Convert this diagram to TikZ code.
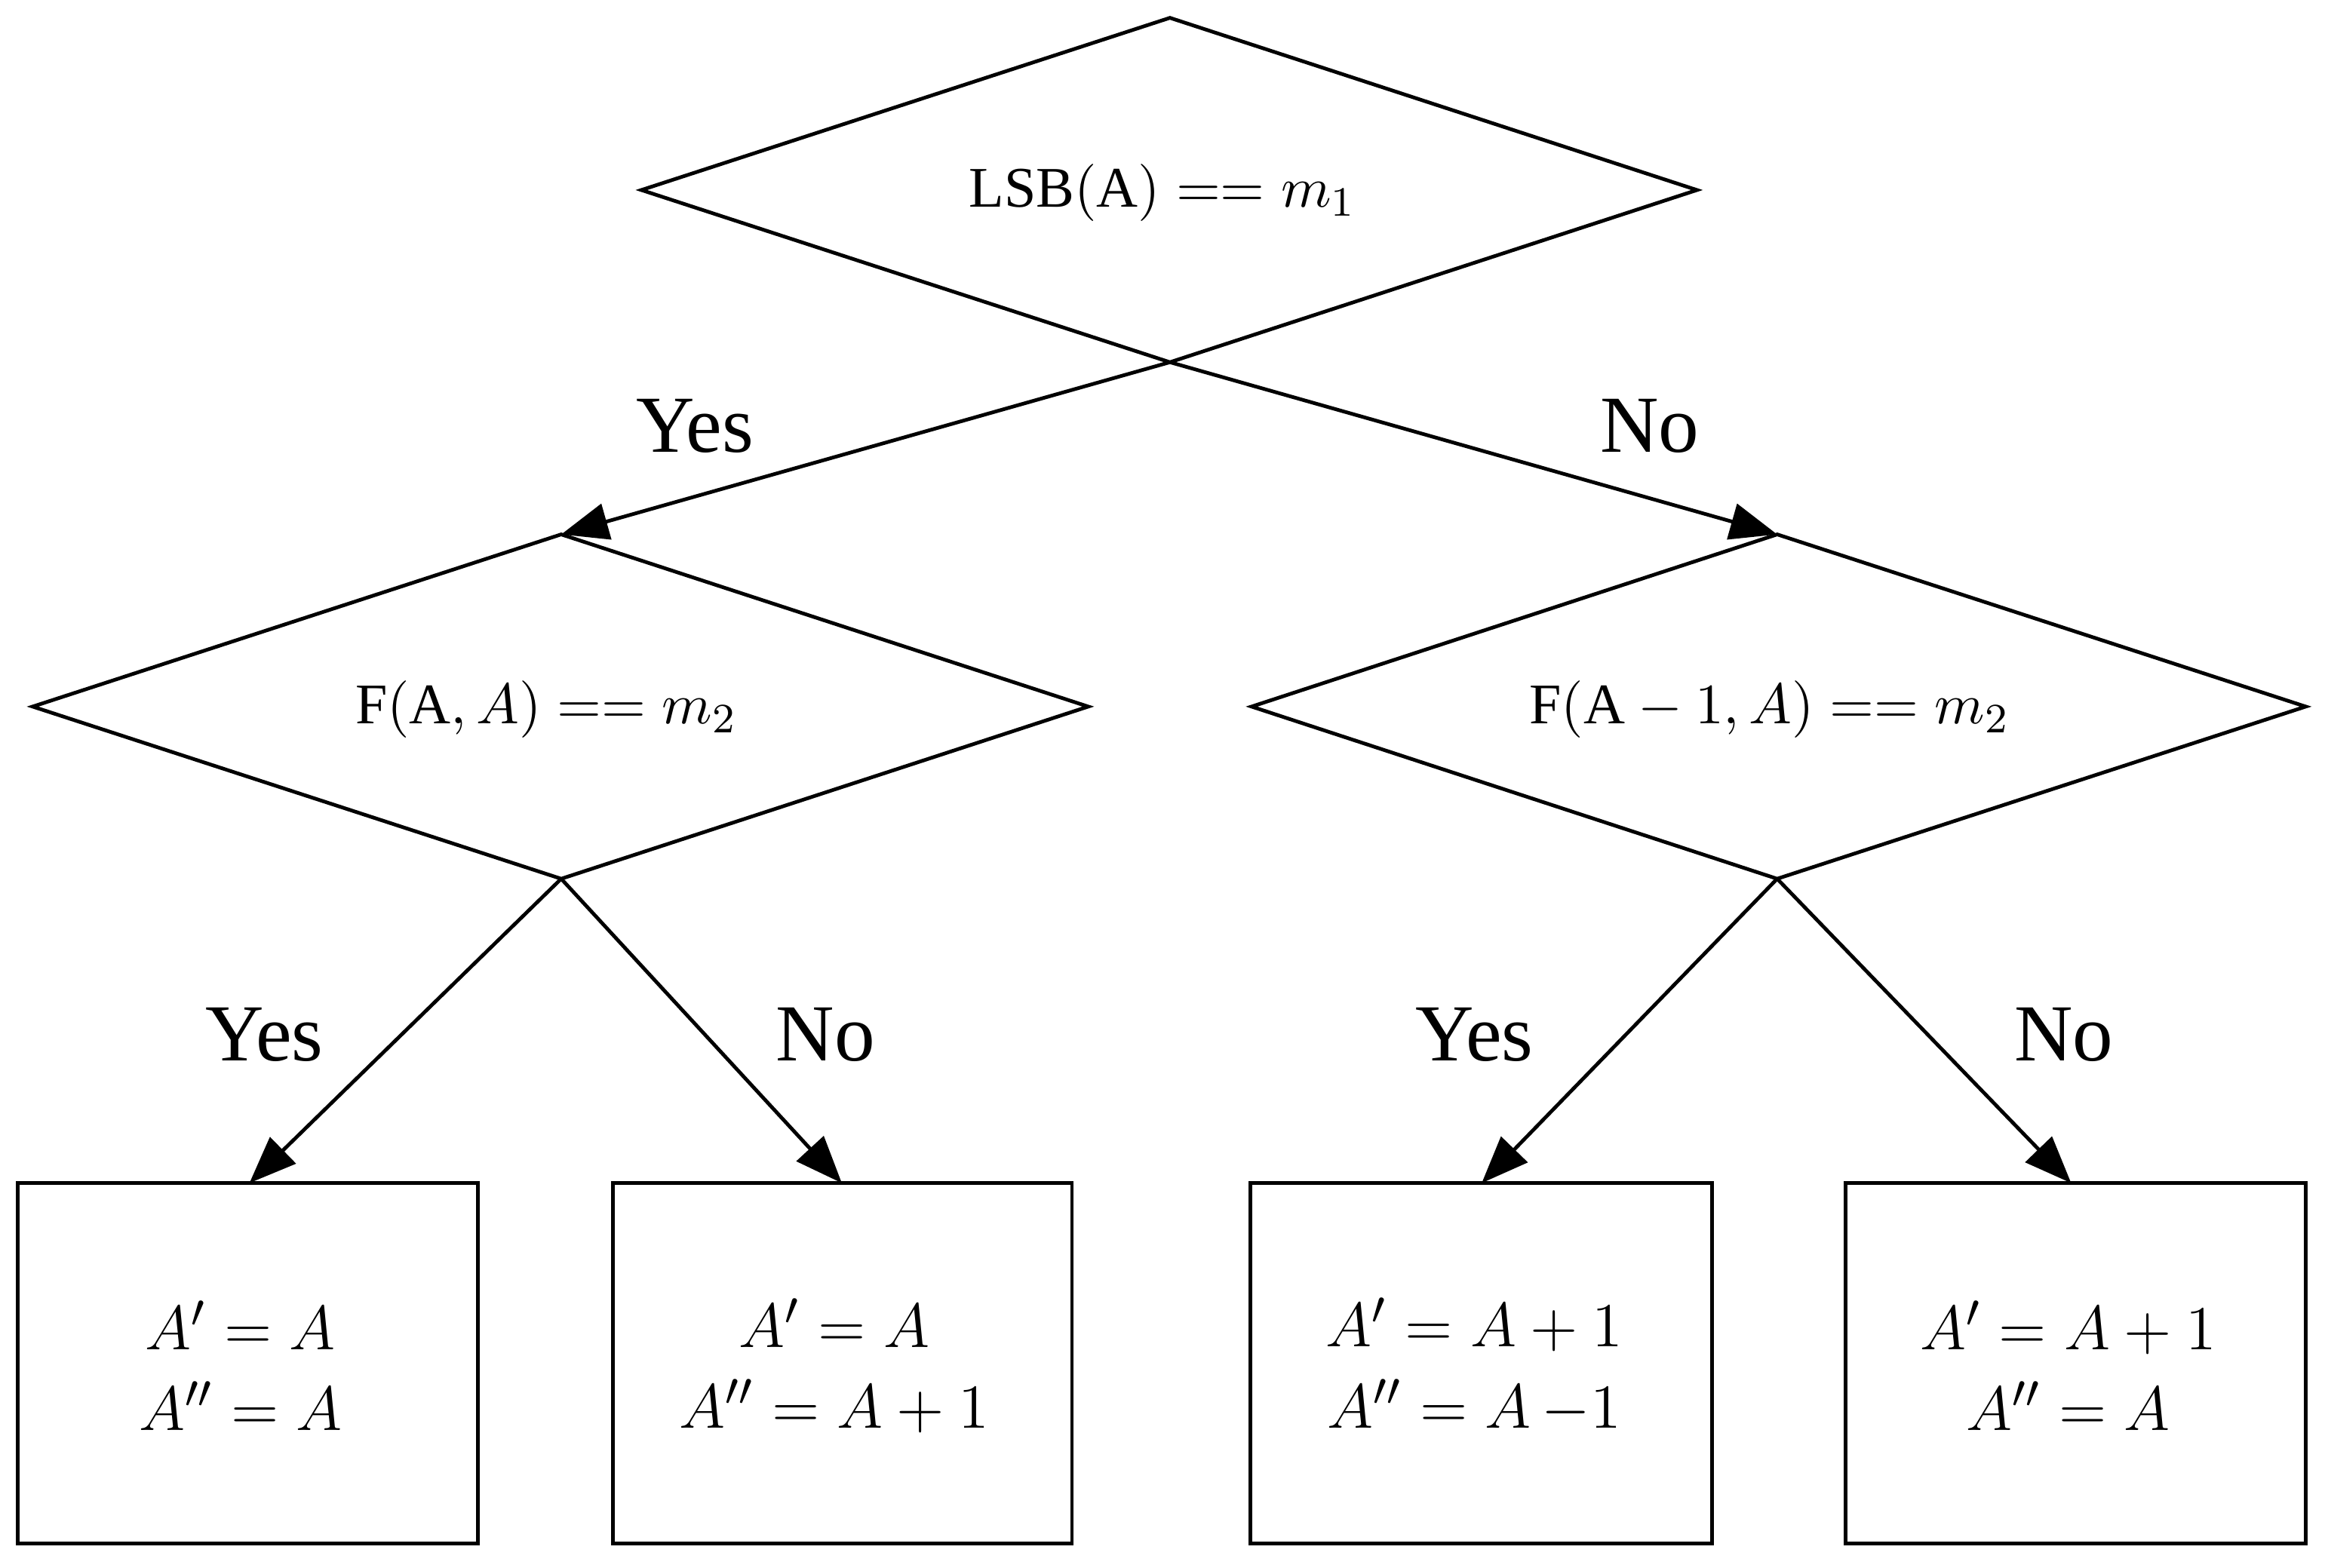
\documentclass[tikz,border=0pt]{standalone}
\usepackage{fontspec}
\setmainfont{Liberation Serif}
\usetikzlibrary{arrows.meta}
\begin{document}
\begin{tikzpicture}[x=0.01cm,y=-0.01cm,
  line/.style={line width=0.7pt},
  arr/.style={line width=0.7pt,-{Triangle[length=9pt,width=7pt]}},
  lab/.style={font=\fontsize{15.5}{18}\selectfont},
  dtxt/.style={font=\fontsize{11}{13}\selectfont},
  btxt/.style={font=\fontsize{13}{15.5}\selectfont,align=center}]
\useasboundingbox (0,0) rectangle (1568,1056);
% top diamond
\coordinate (t1) at (788,12); \coordinate (l1) at (432,128); \coordinate (r1) at (1143,128); \coordinate (b1) at (788,244);
\draw[line] (t1)--(r1)--(b1)--(l1)--cycle;
\node[dtxt] (d1) at (783,130) {$\mathrm{LSB(A)}==m_1$};
% left diamond
\coordinate (t2) at (378,360); \coordinate (l2) at (22,476); \coordinate (r2) at (733,476); \coordinate (b2) at (378,592);
\draw[line] (t2)--(r2)--(b2)--(l2)--cycle;
\node[dtxt] (d2) at (368,478) {$\mathrm{F(A},A)==m_2$};
% right diamond
\coordinate (t3) at (1197,360); \coordinate (l3) at (843,476); \coordinate (r3) at (1553,476); \coordinate (b3) at (1197,592);
\draw[line] (t3)--(r3)--(b3)--(l3)--cycle;
\node[dtxt] (d3) at (1192,478) {$\mathrm{F(A}-1,A)==m_2$};
% boxes
\draw[line] (12,797) rectangle (322,1040);
\draw[line] (413,797) rectangle (722,1040);
\draw[line] (842,797) rectangle (1153,1040);
\draw[line] (1243,797) rectangle (1553,1040);
\node[btxt] (x1) at (162,920) {$A'=A$\\$A''=A$};
\node[btxt] (x2) at (562,920) {$A'=A$\\$A''=A+1$};
\node[btxt] (x3) at (993,920) {$A'=A+1$\\$A''=A\,{-1}$};
\node[btxt] (x4) at (1393,920) {$A'=A+1$\\$A''=A$};
\coordinate (e1) at (168,797); \coordinate (e2) at (567,797);
\coordinate (e3) at (998,797); \coordinate (e4) at (1395,797);
% arrows
\draw[arr] (b1)--(t2);
\draw[arr] (b1)--(t3);
\draw[arr] (b2)--(e1);
\draw[arr] (b2)--(e2);
\draw[arr] (b3)--(e3);
\draw[arr] (b3)--(e4);
% labels
\node[lab] (y1) at (468,287) {Yes};
\node[lab] (n1) at (1111,287) {No};
\node[lab] (y2) at (178,697) {Yes};
\node[lab] (n2) at (556,697) {No};
\node[lab] (y3) at (993,697) {Yes};
\node[lab] (n3) at (1390,697) {No};
\end{tikzpicture}
\end{document}
